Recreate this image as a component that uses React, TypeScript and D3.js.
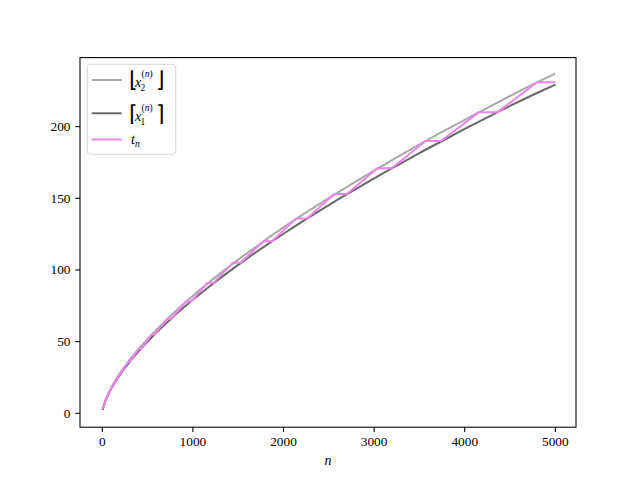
import React from "react";
import * as d3 from "d3";

// sample positions along n
const nGrid = [5, 10, 20, 35, 50, 75, 100, 150, 200, 300, 400, 500, 750, 1000, 1250, 1500, 1750, 2000, 2250, 2500, 2750, 3000, 3250, 3500, 3750, 4000, 4250, 4500, 4750, 5000];
// floor(x2^(n)) – upper curve
const upperVals = [2.5, 3.9, 6.2, 9.0, 11.4, 14.8, 17.9, 23.5, 28.4, 37.1, 44.8, 51.9, 67.8, 82.0, 95.0, 107.2, 118.6, 129.7, 140.2, 150.2, 159.9, 169.4, 178.6, 187.6, 196.4, 204.8, 213.2, 221.4, 229.5, 237.0];
// ceil(x1^(n)) – lower curve
const lowerVals = [2.4, 3.8, 5.9, 8.6, 10.9, 14.3, 17.3, 22.6, 27.3, 35.7, 43.2, 50.1, 65.5, 79.2, 91.8, 103.6, 114.7, 125.3, 135.5, 145.3, 154.7, 163.9, 172.8, 181.6, 190.0, 198.4, 206.5, 214.5, 222.1, 229.4];

// t_n staircase vertices
const tN = [5, 19, 20, 41, 44, 76, 81, 127, 135, 196, 208, 287, 304, 402, 426, 545, 576, 720, 760, 925, 980, 1160, 1228, 1440, 1525, 1778, 1872, 2140, 2260, 2560, 2700, 3035, 3196, 3567, 3740, 4153, 4360, 4798, 5000];
const tVals = [3, 6, 6, 10, 10, 15, 15, 21, 21, 28, 28, 36, 36, 45, 45, 55, 55, 66, 66, 78, 78, 91, 91, 105, 105, 120, 120, 136, 136, 153, 153, 171, 171, 190, 190, 210, 210, 231, 231];

const xTicks = [0, 1000, 2000, 3000, 4000, 5000];
const yTicks = [0, 50, 100, 150, 200];

const width = 640;
const height = 480;
const margin = { top: 57.6, right: 64, bottom: 52.8, left: 80 };

const colUpper = "#a9a9a9";
const colLower = "#696969";
const colT = "#ee82ee";

const serif = { fontFamily: "'Liberation Serif', serif" };
const bracket = { fontFamily: "'DejaVu Sans', sans-serif", fontWeight: 200 };

export default function App() {
  const x = d3
    .scaleLinear()
    .domain([-246, 5228])
    .range([margin.left, width - margin.right]);
  const y = d3
    .scaleLinear()
    .domain([-9.7, 248.2])
    .range([height - margin.bottom, margin.top]);

  const smooth = d3
    .line<[number, number]>()
    .x((d) => x(d[0]))
    .y((d) => y(d[1]))
    .curve(d3.curveMonotoneX);
  const straight = d3
    .line<[number, number]>()
    .x((d) => x(d[0]))
    .y((d) => y(d[1]));

  const upperPts = nGrid.map((n, i) => [n, upperVals[i]] as [number, number]);
  const lowerPts = nGrid.map((n, i) => [n, lowerVals[i]] as [number, number]);
  const tPts = tN.map((n, i) => [n, tVals[i]] as [number, number]);

  const x0 = margin.left;
  const x1 = width - margin.right;
  const y0 = margin.top;
  const y1 = height - margin.bottom;

  return (
    <svg
      width={width}
      height={height}
      style={{ position: "fixed", left: 0, top: 0, background: "#fff" }}
    >
      <rect width={width} height={height} fill="#fff" />

      <path d={smooth(upperPts) || ""} fill="none" stroke={colUpper} strokeWidth={2} />
      <path d={smooth(lowerPts) || ""} fill="none" stroke={colLower} strokeWidth={2} />
      <path d={straight(tPts) || ""} fill="none" stroke={colT} strokeWidth={2} strokeLinejoin="round" />

      {/* axes frame */}
      <rect x={x0} y={y0} width={x1 - x0} height={y1 - y0} fill="none" stroke="#000" strokeWidth={1.07} />

      {xTicks.map((t) => (
        <g key={"x" + t}>
          <line x1={x(t)} x2={x(t)} y1={y1} y2={y1 + 4.7} stroke="#000" strokeWidth={1.07} />
          <text x={x(t)} y={y1 + 19} textAnchor="middle" fontSize={13.33} style={serif}>
            {t}
          </text>
        </g>
      ))}
      {yTicks.map((t) => (
        <g key={"y" + t}>
          <line x1={x0 - 4.7} x2={x0} y1={y(t)} y2={y(t)} stroke="#000" strokeWidth={1.07} />
          <text x={x0 - 9.5} y={y(t) + 4.5} textAnchor="end" fontSize={13.33} style={serif}>
            {t}
          </text>
        </g>
      ))}

      <text x={(x0 + x1) / 2} y={465} textAnchor="middle" fontSize={14} fontStyle="italic" style={serif}>
        n
      </text>

      {/* legend */}
      <rect x={87.3} y={64.3} width={88.4} height={90} rx={3} fill="#fff" fillOpacity={0.8} stroke="#d6d6d6" strokeWidth={1} />
      <line x1={91.7} x2={121.7} y1={80} y2={80} stroke={colUpper} strokeWidth={2} />
      <line x1={91.7} x2={121.7} y1={113.3} y2={113.3} stroke={colLower} strokeWidth={2} />
      <line x1={91.7} x2={121.7} y1={139.5} y2={139.5} stroke={colT} strokeWidth={2} />

      <text x={128.5} y={87} fontSize={22} style={bracket}>⌊</text>
      <text x={135} y={87} fontSize={14} fontStyle="italic" style={serif}>x</text>
      <text x={141.5} y={76.5} fontSize={9.5} style={serif}>(<tspan fontStyle="italic">n</tspan>)</text>
      <text x={140.5} y={91} fontSize={9.5} style={serif}>2</text>
      <text x={156} y={87} fontSize={22} style={bracket}>⌋</text>

      <text x={128.5} y={121} fontSize={22} style={bracket}>⌈</text>
      <text x={135} y={121} fontSize={14} fontStyle="italic" style={serif}>x</text>
      <text x={141.5} y={110.5} fontSize={9.5} style={serif}>(<tspan fontStyle="italic">n</tspan>)</text>
      <text x={140.5} y={125} fontSize={9.5} style={serif}>1</text>
      <text x={156} y={121} fontSize={22} style={bracket}>⌉</text>

      <text x={131} y={144} fontSize={14} fontStyle="italic" style={serif}>t</text>
      <text x={135} y={147} fontSize={9.5} fontStyle="italic" style={serif}>n</text>
    </svg>
  );
}
